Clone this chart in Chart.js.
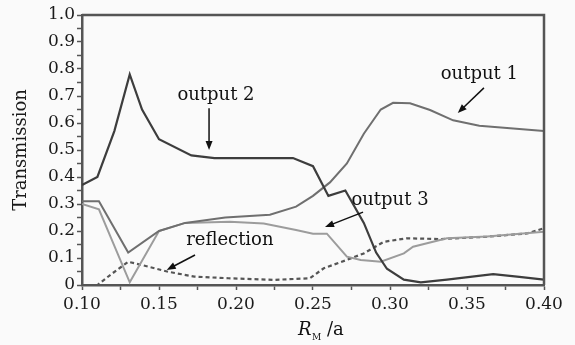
<!DOCTYPE html>
<html>
<head>
<meta charset="utf-8">
<script src="https://cdn.jsdelivr.net/npm/chart.js@4"></script>
<style>
    html, body { margin: 0; padding: 0; background: #fafafa; }
</style>
</head>
<body>
<canvas id="transmissionChart" width="575" height="345"></canvas>
<script>
// values (x = R_M / a)
const output1X = [0.100, 0.111, 0.130, 0.150, 0.167, 0.193, 0.222, 0.239, 0.250, 0.261, 0.272, 0.283, 0.294, 0.302, 0.313, 0.326, 0.341, 0.358, 0.380, 0.400];
const output1Y = [0.31, 0.31, 0.12, 0.20, 0.23, 0.25, 0.26, 0.29, 0.33, 0.38, 0.45, 0.56, 0.65, 0.675, 0.673, 0.648, 0.61, 0.59, 0.58, 0.57];

const output2X = [0.100, 0.110, 0.121, 0.131, 0.139, 0.150, 0.171, 0.186, 0.237, 0.250, 0.260, 0.271, 0.283, 0.291, 0.298, 0.309, 0.320, 0.337, 0.367, 0.384, 0.400];
const output2Y = [0.37, 0.40, 0.57, 0.78, 0.65, 0.54, 0.48, 0.47, 0.47, 0.44, 0.33, 0.35, 0.23, 0.12, 0.06, 0.02, 0.01, 0.02, 0.04, 0.03, 0.02];

const output3X = [0.100, 0.111, 0.131, 0.150, 0.167, 0.196, 0.218, 0.239, 0.250, 0.259, 0.272, 0.281, 0.294, 0.309, 0.315, 0.337, 0.363, 0.400];
const output3Y = [0.30, 0.28, 0.01, 0.20, 0.23, 0.234, 0.228, 0.204, 0.19, 0.19, 0.105, 0.093, 0.086, 0.117, 0.142, 0.173, 0.18, 0.197];

const reflectionX = [0.100, 0.110, 0.119, 0.130, 0.139, 0.156, 0.173, 0.195, 0.225, 0.248, 0.257, 0.272, 0.283, 0.296, 0.311, 0.333, 0.363, 0.389, 0.400];
const reflectionY = [0.00, 0.00, 0.04, 0.086, 0.074, 0.049, 0.031, 0.025, 0.019, 0.025, 0.062, 0.093, 0.117, 0.16, 0.173, 0.17, 0.179, 0.191, 0.21];

const xTicks = [0.10, 0.15, 0.20, 0.25, 0.30, 0.35, 0.40];
const yTicks = [0, 0.1, 0.2, 0.3, 0.4, 0.5, 0.6, 0.7, 0.8, 0.9, 1.0];

const toPoints = (xs, ys) => xs.map((x, i) => ({ x: x, y: ys[i] }));

const FONT = "'DejaVu Serif', 'Liberation Serif', serif";
const AXIS = '#555';

// text labels with arrows, placed in data units
const notes = [
    { text: 'output 2', x: 0.187, y: 0.704, from: [0.1825, 0.655], to: [0.1825, 0.50] },
    { text: 'output 1', x: 0.358, y: 0.781, from: [0.361, 0.73], to: [0.344, 0.637] },
    { text: 'output 3', x: 0.300, y: 0.315, from: [0.2825, 0.27], to: [0.2578, 0.215] },
    { text: 'reflection', x: 0.196, y: 0.167, from: [0.1734, 0.111], to: [0.155, 0.056] }
];

const drawArrow = (ctx, x1, y1, x2, y2) => {
    const ang = Math.atan2(y2 - y1, x2 - x1);
    const len = 9, half = 3.5;
    ctx.beginPath();
    ctx.moveTo(x1, y1);
    ctx.lineTo(x2 - Math.cos(ang) * len * 0.8, y2 - Math.sin(ang) * len * 0.8);
    ctx.stroke();
    ctx.beginPath();
    ctx.moveTo(x2, y2);
    ctx.lineTo(x2 - Math.cos(ang) * len - Math.sin(ang) * half, y2 - Math.sin(ang) * len + Math.cos(ang) * half);
    ctx.lineTo(x2 - Math.cos(ang) * len + Math.sin(ang) * half, y2 - Math.sin(ang) * len - Math.cos(ang) * half);
    ctx.closePath();
    ctx.fill();
};

const extrasPlugin = {
    id: 'extras',
    afterDraw(chart) {
        const { ctx, chartArea, scales } = chart;
        const xs = scales.x, ys = scales.y;
        ctx.save();

        // top and right frame
        ctx.strokeStyle = AXIS;
        ctx.lineWidth = 2.5;
        ctx.beginPath();
        ctx.moveTo(chartArea.left, chartArea.top);
        ctx.lineTo(chartArea.right, chartArea.top);
        ctx.lineTo(chartArea.right, chartArea.bottom);
        ctx.stroke();

        // annotations
        ctx.fillStyle = '#111';
        ctx.strokeStyle = '#111';
        ctx.lineWidth = 1.5;
        ctx.font = '18px ' + FONT;
        ctx.textAlign = 'center';
        ctx.textBaseline = 'middle';
        notes.forEach(n => {
            ctx.fillText(n.text, xs.getPixelForValue(n.x), ys.getPixelForValue(n.y));
            drawArrow(ctx,
                xs.getPixelForValue(n.from[0]), ys.getPixelForValue(n.from[1]),
                xs.getPixelForValue(n.to[0]), ys.getPixelForValue(n.to[1]));
        });

        // x axis title: R_M /a
        const bx = (chartArea.left + chartArea.right) / 2 - 15;
        const by = chartArea.bottom + 50;
        ctx.textAlign = 'left';
        ctx.textBaseline = 'alphabetic';
        ctx.font = 'italic 18px ' + FONT;
        ctx.fillText('R', bx, by);
        ctx.font = '9px ' + FONT;
        ctx.fillText('M', bx + 14, by + 5);
        ctx.font = '18px ' + FONT;
        ctx.fillText('/a', bx + 29, by);
        ctx.restore();
    }
};

new Chart(document.getElementById('transmissionChart'), {
    type: 'line',
    data: {
        datasets: [
            { label: 'output 2', data: toPoints(output2X, output2Y), borderColor: '#3d3d3d', borderWidth: 2.2 },
            { label: 'output 1', data: toPoints(output1X, output1Y), borderColor: '#6f6f6f', borderWidth: 2 },
            { label: 'output 3', data: toPoints(output3X, output3Y), borderColor: '#9c9c9c', borderWidth: 2 },
            { label: 'reflection', data: toPoints(reflectionX, reflectionY), borderColor: '#555', borderWidth: 2.2, borderDash: [4, 3] }
        ]
    },
    options: {
        responsive: false,
        animation: false,
        layout: { padding: { top: 15, right: 31, left: 0, bottom: 0 } },
        elements: { point: { radius: 0 }, line: { tension: 0, fill: false } },
        plugins: { legend: { display: false }, tooltip: { enabled: false } },
        scales: {
            x: {
                type: 'linear',
                min: 0.1,
                max: 0.4,
                afterFit: (scale) => { scale.height = 60; },
                border: { display: true, color: AXIS, width: 2.5 },
                grid: { drawOnChartArea: false, drawTicks: true, tickLength: 5, tickColor: AXIS, tickWidth: 1.5 },
                ticks: {
                    stepSize: 0.025,
                    autoSkip: false,
                    maxRotation: 0,
                    padding: 4,
                    color: '#1a1a1a',
                    font: { family: FONT, size: 17 },
                    callback: (v) => {
                        const match = xTicks.find(t => Math.abs(t - v) < 1e-6);
                        return match === undefined ? '' : match.toFixed(2);
                    }
                }
            },
            y: {
                type: 'linear',
                min: 0,
                max: 1,
                afterFit: (scale) => { scale.width = 82; },
                border: { display: true, color: AXIS, width: 2.5 },
                grid: { drawOnChartArea: false, drawTicks: true, tickLength: 5, tickColor: AXIS, tickWidth: 1.5 },
                title: {
                    display: true,
                    text: 'Transmission',
                    color: '#1a1a1a',
                    font: { family: FONT, size: 18 },
                    padding: { top: 11, bottom: 0 }
                },
                ticks: {
                    stepSize: 0.05,
                    autoSkip: false,
                    padding: 2,
                    color: '#1a1a1a',
                    font: { family: FONT, size: 17 },
                    callback: (v) => {
                        const match = yTicks.find(t => Math.abs(t - v) < 1e-6);
                        if (match === undefined) return '';
                        return match === 0 ? '0' : match.toFixed(1);
                    }
                }
            }
        }
    },
    plugins: [extrasPlugin]
});
</script>
</body>
</html>
